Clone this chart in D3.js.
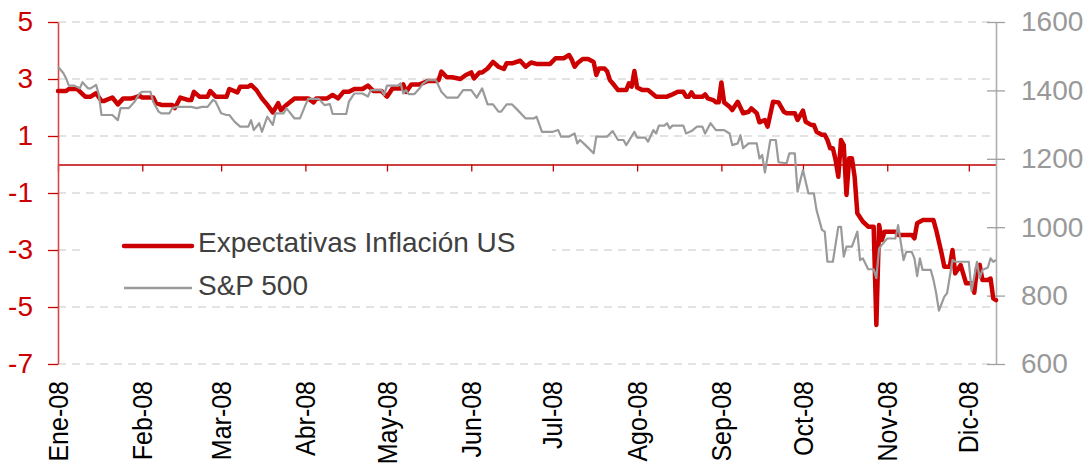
<!DOCTYPE html>
<html><head><meta charset="utf-8">
<script src="https://cdn.jsdelivr.net/npm/d3@7"></script>
<style>
body{margin:0;background:#fff}
svg text{font-family:"Liberation Sans",Arial,sans-serif}
</style>
</head><body>
<svg id="chart" width="1092" height="469"></svg>
<script>
// ---- data (day = days since 1 Jan 2008) ----
const monthLabels = ["Ene-08","Feb-08","Mar-08","Abr-08","May-08","Jun-08","Jul-08","Ago-08","Sep-08","Oct-08","Nov-08","Dic-08"];
const seriesNames = ["Expectativas Inflación US","S&P 500"];
const leftTicks = [5,3,1,-1,-3,-5,-7];
const rightTicks = [1600,1400,1200,1000,800,600];
const lastDay = 345;

const inflation = [[0,2.58],[3,2.58],[4,2.65],[7,2.65],[10,2.38],[12,2.38],[14,2.5],[16,2.23],[17,2.23],[20,2.35],[22,2.11],[24,2.32],[27,2.32],[28,2.34],[30,2.41],[31,2.35],[35,2.35],[36,2.16],[38,2.09],[42,2.09],[43,1.98],[45,2.35],[48,2.26],[49,2.26],[50,2.55],[52,2.38],[55,2.38],[56,2.58],[58,2.38],[62,2.38],[63,2.65],[66,2.53],[67,2.73],[70,2.73],[71,2.79],[73,2.61],[75,2.32],[77,2.09],[79,1.83],[81,2.15],[82,1.91],[84,2.09],[87,2.32],[92,2.32],[94,2.18],[95,2.32],[99,2.32],[101,2.44],[103,2.32],[105,2.55],[107,2.55],[109,2.65],[112,2.65],[114,2.77],[116,2.58],[119,2.58],[121,2.38],[123,2.67],[126,2.67],[127,2.81],[128,2.55],[130,2.81],[133,2.81],[136,2.93],[139,2.93],[140,2.96],[141,3.26],[143,3.06],[145,3.06],[148,3.0],[150,3.14],[152,3.23],[153,3.02],[155,3.23],[156,3.23],[158,3.37],[160,3.6],[162,3.43],[164,3.35],[165,3.55],[167,3.55],[170,3.64],[172,3.43],[174,3.58],[176,3.53],[181,3.53],[183,3.73],[186,3.73],[188,3.84],[189,3.67],[190,3.43],[191,3.55],[193,3.70],[195,3.70],[197,3.60],[198,3.14],[199,3.37],[201,3.37],[202,3.26],[203,2.96],[204,2.85],[206,2.61],[209,2.61],[210,2.85],[211,2.73],[212,3.28],[213,2.70],[215,2.61],[217,2.61],[220,2.38],[224,2.38],[226,2.46],[228,2.55],[230,2.55],[231,2.38],[232,2.38],[233,2.53],[234,2.38],[237,2.38],[238,2.46],[239,2.32],[241,2.26],[242,2.18],[243,2.18],[244,2.88],[245,2.18],[247,2.03],[248,1.91],[250,2.2],[252,1.80],[254,1.85],[255,1.97],[257,1.80],[258,1.48],[260,1.56],[261,1.33],[263,2.20],[265,2.18],[267,1.85],[268,1.80],[271,1.80],[272,1.56],[274,1.89],[275,1.50],[277,1.39],[278,1.39],[279,1.15],[281,1.04],[282,1.04],[283,0.86],[284,0.57],[285,0.57],[286,0.16],[287,-0.43],[288,0.86],[289,0.68],[290,-1.07],[291,0.22],[292,0.22],[293,-0.43],[294,-1.71],[296,-2.0],[298,-2.18],[300,-2.18],[301,-5.63],[302,-2.12],[303,-2.65],[304,-2.36],[308,-2.36],[309,-2.47],[314,-2.47],[315,-2.59],[316,-2.06],[318,-1.95],[322,-1.95],[323,-2.30],[325,-3.12],[326,-3.59],[328,-3.59],[329,-3.0],[330,-3.82],[332,-3.53],[334,-4.17],[336,-4.17],[337,-4.5],[338,-3.64],[339,-3.52],[340,-4.05],[342,-4.05],[343,-4.0],[344,-4.7],[345,-4.76]];

const sp500 = [[0,1469],[2,1450],[3,1435],[4,1414],[6,1414],[8,1406],[9,1424],[11,1406],[12,1406],[14,1416],[15,1389],[16,1328],[20,1328],[22,1313],[23,1348],[26,1348],[28,1365],[30,1391],[31,1396],[34,1396],[35,1367],[37,1338],[38,1333],[41,1333],[42,1348],[44,1352],[49,1352],[51,1348],[53,1352],[55,1352],[57,1372],[58,1367],[60,1333],[62,1328],[63,1328],[65,1308],[67,1294],[70,1294],[71,1313],[72,1284],[74,1304],[75,1279],[77,1323],[79,1299],[80,1333],[83,1333],[84,1348],[87,1318],[89,1318],[91,1357],[92,1375],[96,1375],[98,1357],[100,1360],[101,1331],[106,1331],[107,1367],[109,1391],[112,1391],[114,1382],[115,1401],[119,1401],[120,1387],[121,1414],[125,1414],[126,1421],[127,1391],[128,1401],[129,1389],[131,1389],[133,1406],[134,1418],[136,1430],[139,1430],[141,1396],[143,1379],[147,1379],[149,1401],[152,1401],[154,1379],[156,1406],[158,1359],[160,1359],[162,1338],[163,1338],[165,1359],[167,1359],[169,1343],[172,1318],[175,1318],[176,1323],[178,1279],[182,1279],[184,1284],[185,1265],[188,1265],[190,1274],[191,1245],[192,1255],[194,1240],[197,1216],[198,1265],[202,1265],[204,1281],[206,1255],[208,1255],[209,1240],[212,1279],[213,1262],[216,1262],[217,1250],[219,1284],[220,1274],[221,1297],[223,1297],[224,1304],[225,1289],[226,1297],[230,1297],[231,1274],[233,1281],[235,1294],[237,1294],[238,1274],[240,1304],[242,1284],[245,1284],[247,1274],[248,1240],[250,1245],[251,1269],[252,1231],[254,1245],[257,1245],[258,1201],[259,1211],[260,1160],[262,1255],[264,1255],[265,1190],[268,1187],[269,1216],[271,1216],[272,1104],[274,1167],[276,1099],[278,1099],[279,1050],[281,992],[282,987],[283,899],[285,899],[287,1001],[288,1001],[289,914],[290,943],[292,943],[294,987],[295,904],[296,909],[298,877],[300,877],[301,851],[302,938],[304,958],[305,967],[308,967],[309,1006],[311,904],[312,928],[314,928],[315,909],[316,857],[317,909],[318,875],[321,875],[322,846],[323,807],[324,756],[326,797],[327,807],[328,855],[329,904],[330,899],[335,899],[336,814],[337,855],[338,899],[339,851],[340,875],[342,882],[343,909],[344,899],[345,904]];

// ---- scales ----
const start = new Date(Date.UTC(2008,0,1));
const toDate = d => d3.utcDay.offset(start, d);
const x = d3.scaleUtc().domain([start, toDate(lastDay)]).range([58, 996]);
const yL = d3.scaleLinear().domain([-7,5]).range([364,22]);
const yR = d3.scaleLinear().domain([600,1600]).range([364,22]);
const months = d3.utcMonth.range(start, toDate(lastDay));
const plain = d => String(d);

const svg = d3.select("#chart");
svg.append("rect").attr("width",1092).attr("height",469).attr("fill","#fff");

// gridlines
svg.append("g").selectAll("line").data(leftTicks).join("line")
  .attr("x1", 58).attr("x2", 996)
  .attr("y1", d => yL(d)).attr("y2", d => yL(d))
  .attr("stroke", "#c8c8c8").attr("stroke-width", 1.2).attr("stroke-dasharray", "8,6");

// zero axis with month ticks
const xAxis = svg.append("g").attr("transform", `translate(0,${yL(0)})`)
  .call(d3.axisBottom(x).tickValues(months).tickSize(7).tickSizeOuter(0).tickFormat(""));
xAxis.select(".domain").attr("stroke", "#c00000").attr("stroke-width", 1.3);
xAxis.selectAll(".tick line").attr("stroke", "#c00000").attr("stroke-width", 1.3);

// month labels
svg.append("g").selectAll("text").data(months).join("text")
  .attr("transform", d => `translate(${x(d)},381) rotate(-90) scale(1,1.1)`)
  .attr("text-anchor", "end").attr("dy", "0.35em")
  .attr("font-size", 25).attr("fill", "#000")
  .text((d, i) => monthLabels[i]);

// left axis
const gL = svg.append("g").attr("transform", "translate(58,0)")
  .call(d3.axisLeft(yL).tickValues(leftTicks).tickSize(10).tickSizeOuter(0).tickPadding(15).tickFormat(plain));
gL.select(".domain").attr("stroke", "#d84848").attr("stroke-width", 1.6);
gL.selectAll(".tick line").attr("stroke", "#cc0000").attr("stroke-width", 1.3);
gL.selectAll(".tick text").attr("font-size", 28).attr("fill", "#cc0000")
  .attr("font-family", '"Liberation Sans",Arial,sans-serif');

// right axis
const gR = svg.append("g").attr("transform", "translate(996,0)")
  .call(d3.axisRight(yR).tickValues(rightTicks).tickSize(9).tickSizeOuter(0).tickPadding(16).tickFormat(plain));
gR.select(".domain").attr("stroke", "#b0b0b0").attr("stroke-width", 1.6);
gR.selectAll(".tick line").attr("x1", -9).attr("stroke", "#a0a0a0").attr("stroke-width", 1.3);
gR.selectAll(".tick text").attr("font-size", 28).attr("fill", "#999999")
  .attr("font-family", '"Liberation Sans",Arial,sans-serif');

// series
const lineL = d3.line().x(d => x(toDate(d[0]))).y(d => yL(d[1]));
const lineR = d3.line().x(d => x(toDate(d[0]))).y(d => yR(d[1]));
svg.append("path").datum(inflation).attr("d", lineL)
  .attr("fill", "none").attr("stroke", "#cc0000").attr("stroke-width", 4.5)
  .attr("stroke-linejoin", "round").attr("stroke-linecap", "round");
svg.append("path").datum(sp500).attr("d", lineR)
  .attr("fill", "none").attr("stroke", "#9a9a9a").attr("stroke-width", 2.2)
  .attr("stroke-linejoin", "round");

// legend
const leg = svg.append("g");
leg.append("rect").attr("x", 82).attr("y", 197).attr("width", 470).attr("height", 106).attr("fill", "#fff");
const legColors = ["#cc0000", "#9a9a9a"], legWidths = [4.5, 2.4], legY = [246, 288];
seriesNames.forEach((n, i) => {
  leg.append("line").attr("x1", 124).attr("x2", 192).attr("y1", legY[i]).attr("y2", legY[i])
    .attr("stroke", legColors[i]).attr("stroke-width", legWidths[i]).attr("stroke-linecap", i ? "butt" : "round");
  leg.append("text").attr("x", 198).attr("y", legY[i] + 6 + i)
    .attr("font-size", 28).attr("fill", "#404040").text(n);
});
</script>
</body></html>
